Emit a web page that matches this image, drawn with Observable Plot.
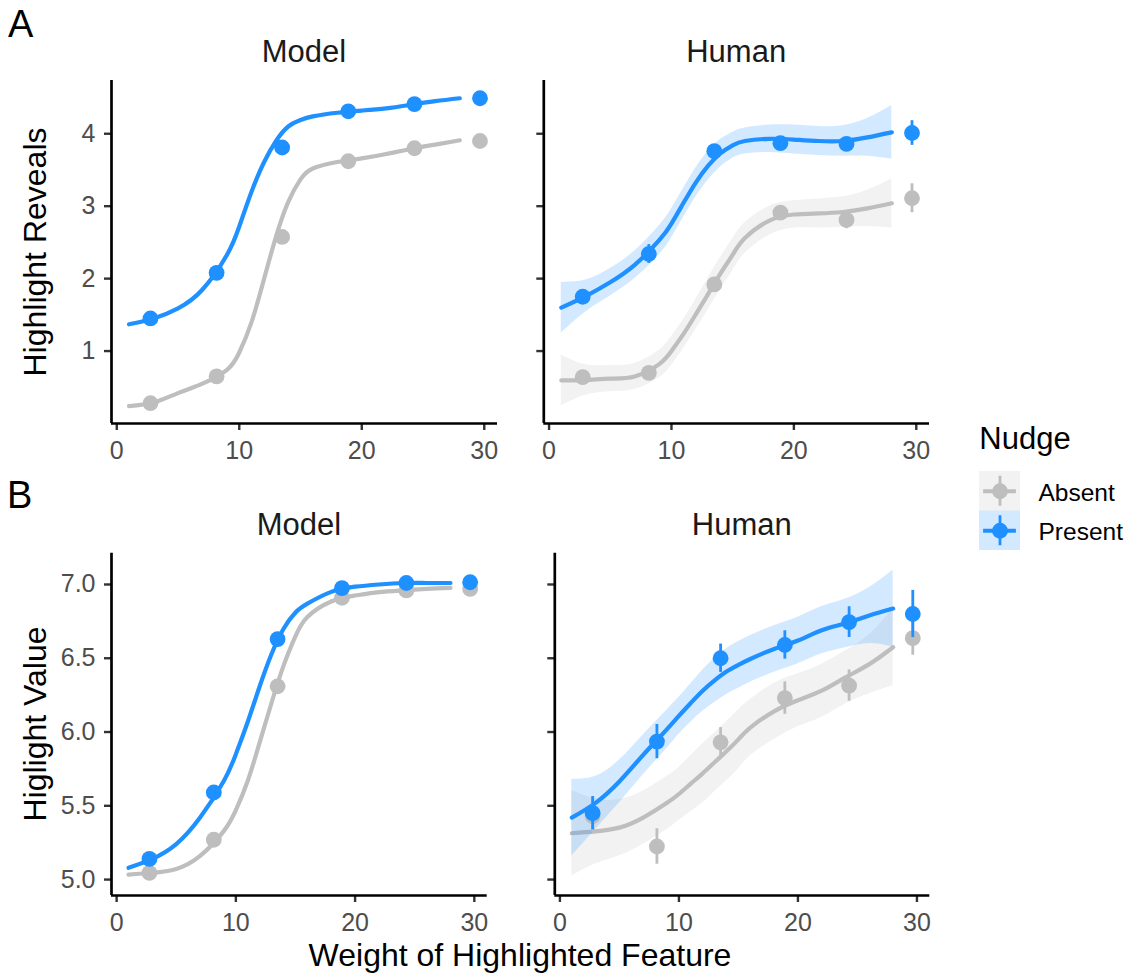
<!DOCTYPE html>
<html><head><meta charset="utf-8">
<script src="https://cdn.jsdelivr.net/npm/d3@7"></script>
<script src="https://cdn.jsdelivr.net/npm/@observablehq/plot@0.6"></script>
<style>
body{margin:0;background:#fff;font-family:"Liberation Sans",Arial,Helvetica,sans-serif;}
#root{position:relative;width:1130px;height:973px;overflow:hidden;background:#fff;}
.t{position:absolute;line-height:1;white-space:nowrap;color:#000;}
.p{position:absolute;}
.p svg{background:transparent !important;overflow:visible;}
</style></head><body><div id="root"></div>
<script>
// ---------- data ----------
const nudges = ["Absent", "Present"];
const nudgeColors = ["#BEBEBE", "#1E90FF"];
const agents = ["Model", "Human"];
const xTicks = [0, 10, 20, 30];
const revealTicks = [1, 2, 3, 4];
const valueTicks = [5.0, 5.5, 6.0, 6.5, 7.0];

const pointX = [2.75, 8.15, 13.5, 18.9, 24.3, 29.65];
// Panel A: Highlight Reveals
const revealsModelAbsent  = [0.28, 0.65, 2.575, 3.62, 3.80, 3.90];
const revealsModelPresent = [1.45, 2.08, 3.81, 4.31, 4.41, 4.49];
const revealsHumanAbsent  = [0.64, 0.70, 1.92, 2.91, 2.81, 3.11];
const revealsHumanAbsentErr  = [0.08, 0.08, 0.08, 0.10, 0.12, 0.20];
const revealsHumanPresent = [1.75, 2.34, 3.76, 3.87, 3.86, 4.01];
const revealsHumanPresentErr = [0.10, 0.13, 0.08, 0.07, 0.07, 0.17];
// Panel B: Higlight Value
const valueModelAbsent  = [5.045, 5.27, 6.31, 6.91, 6.96, 6.97];
const valueModelPresent = [5.14, 5.59, 6.63, 6.975, 7.01, 7.015];
const valueHumanAbsent  = [5.43, 5.224, 5.93, 6.23, 6.315, 6.636];
const valueHumanAbsentErr  = [0.11, 0.12, 0.10, 0.11, 0.106, 0.115];
const valueHumanPresent = [5.45, 5.935, 6.50, 6.59, 6.745, 6.80];
const valueHumanPresentErr = [0.113, 0.116, 0.096, 0.096, 0.104, 0.16];

// smooth fits and ribbon half-widths
const smoothX = [1, 3, 5, 7, 9, 10, 11, 12, 13, 14, 15, 16, 18, 20, 22, 24, 26, 28];
const revealsModelAbsentFit  = [0.24, 0.29, 0.42, 0.55, 0.74, 0.98, 1.40, 1.98, 2.58, 3.06, 3.37, 3.52, 3.61, 3.66, 3.72, 3.79, 3.85, 3.91];
const revealsModelPresentFit = [1.37, 1.45, 1.59, 1.85, 2.33, 2.72, 3.2, 3.6, 3.9, 4.1, 4.19, 4.24, 4.29, 4.32, 4.35, 4.40, 4.45, 4.49];
const revealsHumanAbsentFit  = [0.595, 0.60, 0.62, 0.65, 0.82, 1.0, 1.24, 1.51, 1.79, 2.07, 2.33, 2.56, 2.80, 2.885, 2.90, 2.92, 2.97, 3.04];
const revealsHumanAbsentSE   = [0.35, 0.21, 0.18, 0.18, 0.19, 0.2, 0.2, 0.21, 0.22, 0.22, 0.22, 0.21, 0.2, 0.19, 0.2, 0.21, 0.25, 0.34];
const revealsHumanPresentFit = [1.60, 1.76, 1.95, 2.19, 2.53, 2.76, 3.05, 3.33, 3.56, 3.73, 3.84, 3.90, 3.93, 3.92, 3.90, 3.90, 3.95, 4.02];
const revealsHumanPresentSE  = [0.35, 0.22, 0.19, 0.19, 0.2, 0.2, 0.2, 0.2, 0.2, 0.19, 0.18, 0.18, 0.19, 0.2, 0.2, 0.21, 0.26, 0.37];
const valueModelAbsentFit  = [5.034, 5.046, 5.072, 5.16, 5.33, 5.47, 5.67, 5.93, 6.20, 6.45, 6.65, 6.78, 6.885, 6.925, 6.948, 6.96, 6.97, 6.977];
const valueModelPresentFit = [5.08, 5.14, 5.24, 5.42, 5.67, 5.85, 6.07, 6.31, 6.53, 6.70, 6.81, 6.87, 6.95, 6.985, 7.0, 7.01, 7.01, 7.01];
const valueHumanAbsentFit  = [5.314, 5.327, 5.352, 5.42, 5.52, 5.58, 5.65, 5.72, 5.795, 5.87, 5.95, 6.03, 6.14, 6.215, 6.28, 6.37, 6.46, 6.575];
const valueHumanAbsentSE   = [0.29, 0.22, 0.19, 0.18, 0.18, 0.18, 0.19, 0.2, 0.2, 0.2, 0.2, 0.19, 0.19, 0.18, 0.18, 0.18, 0.2, 0.26];
const valueHumanPresentFit = [5.42, 5.52, 5.665, 5.845, 6.02, 6.11, 6.197, 6.28, 6.35, 6.41, 6.455, 6.495, 6.563, 6.62, 6.69, 6.737, 6.79, 6.837];
const valueHumanPresentSE  = [0.26, 0.18, 0.145, 0.135, 0.13, 0.125, 0.13, 0.14, 0.15, 0.155, 0.158, 0.158, 0.158, 0.158, 0.16, 0.165, 0.19, 0.26];

// ---------- helpers ----------
const FONT = '"Liberation Sans", Arial, Helvetica, sans-serif';
const CURVE = "natural";
const xDomain = [-0.43, 31.08];
const root = document.getElementById("root");

function pts(nudge, ys, errs) {
  return pointX.map((x, i) => ({nudge, x, y: ys[i], lo: errs ? ys[i] - errs[i] : ys[i], hi: errs ? ys[i] + errs[i] : ys[i]}));
}
function fit(nudge, ys, se) {
  return smoothX.map((x, i) => ({nudge, x, y: ys[i], lo: se ? ys[i] - se[i] : ys[i], hi: se ? ys[i] + se[i] : ys[i]}));
}

function panel(cfg) {
  const marks = [];
  nudges.forEach((n, k) => {
    const f = cfg.fits[k];
    if (cfg.ribbon) marks.push(Plot.areaY(f, {x: "x", y1: "lo", y2: "hi", fill: "nudge", fillOpacity: 0.2, curve: CURVE}));
    marks.push(Plot.line(f, {x: "x", y: "y", stroke: "nudge", strokeWidth: 4.2, curve: CURVE}));
  });
  nudges.forEach((n, k) => {
    const p = cfg.points[k];
    if (cfg.errors) marks.push(Plot.ruleX(p, {x: "x", y1: "lo", y2: "hi", stroke: "nudge", strokeWidth: 2.8}));
    marks.push(Plot.dot(p, {x: "x", y: "y", fill: "nudge", r: 7.9}));
  });
  marks.push(
    Plot.axisX({ticks: xTicks, tickSize: 7, tickPadding: 11, fontSize: 25, stroke: "#333333", fill: "#4D4D4D", strokeWidth: 2.4, label: null}),
    Plot.axisY({ticks: cfg.yTicks, tickFormat: cfg.labels ? cfg.yFormat : () => "", tickSize: 7, tickPadding: 9, fontSize: 25, stroke: "#333333", fill: "#4D4D4D", strokeWidth: 2.4, label: null}),
    Plot.ruleY([cfg.yDomain[0]], {stroke: "#000", strokeWidth: 2.7}),
    Plot.ruleX([xDomain[0]], {stroke: "#000", strokeWidth: 2.7})
  );
  const svg = Plot.plot({
    width: cfg.w, height: cfg.h,
    marginLeft: cfg.ml, marginRight: cfg.mr, marginTop: cfg.mt, marginBottom: cfg.mb,
    style: {background: "transparent", overflow: "visible", fontFamily: FONT, fontSize: "25px"},
    x: {domain: xDomain},
    y: {domain: cfg.yDomain},
    color: {domain: nudges, range: nudgeColors},
    marks
  });
  const d = document.createElement("div");
  d.className = "p";
  d.style.left = cfg.left + "px";
  d.style.top = cfg.top + "px";
  d.appendChild(svg);
  root.appendChild(d);
}

function text(str, opts) {
  const d = document.createElement("div");
  d.className = "t";
  d.textContent = str;
  d.style.fontSize = opts.size + "px";
  d.style.left = opts.x + "px";
  d.style.top = opts.y + "px";
  if (opts.color) d.style.color = opts.color;
  if (opts.transform) d.style.transform = opts.transform;
  root.appendChild(d);
}

const yRevealDomain = [0.0, 4.735];
const yValueDomain = [4.892, 7.212];
const fmt1 = d3.format(".1f");

// A row
panel({left: 50, top: 70, w: 455, h: 400, ml: 61, mr: 8, mt: 10, mb: 47,
  yDomain: yRevealDomain, yTicks: revealTicks, yFormat: d3.format("d"), labels: true, ribbon: false, errors: false,
  fits: [fit("Absent", revealsModelAbsentFit), fit("Present", revealsModelPresentFit)],
  points: [pts("Absent", revealsModelAbsent), pts("Present", revealsModelPresent)]});
panel({left: 505, top: 70, w: 435, h: 400, ml: 38.3, mr: 11, mt: 10, mb: 47,
  yDomain: yRevealDomain, yTicks: revealTicks, labels: false, ribbon: true, errors: true,
  fits: [fit("Absent", revealsHumanAbsentFit, revealsHumanAbsentSE), fit("Present", revealsHumanPresentFit, revealsHumanPresentSE)],
  points: [pts("Absent", revealsHumanAbsent, revealsHumanAbsentErr), pts("Present", revealsHumanPresent, revealsHumanPresentErr)]});
// B row
panel({left: 50, top: 540, w: 445, h: 400, ml: 61, mr: 8.3, mt: 12.7, mb: 45,
  yDomain: yValueDomain, yTicks: valueTicks, yFormat: fmt1, labels: true, ribbon: false, errors: false,
  fits: [fit("Absent", valueModelAbsentFit), fit("Present", valueModelPresentFit)],
  points: [pts("Absent", valueModelAbsent), pts("Present", valueModelPresent)]});
panel({left: 505, top: 540, w: 435, h: 400, ml: 49.3, mr: 10.7, mt: 12.7, mb: 45,
  yDomain: yValueDomain, yTicks: valueTicks, labels: false, ribbon: true, errors: true,
  fits: [fit("Absent", valueHumanAbsentFit, valueHumanAbsentSE), fit("Present", valueHumanPresentFit, valueHumanPresentSE)],
  points: [pts("Absent", valueHumanAbsent, valueHumanAbsentErr), pts("Present", valueHumanPresent, valueHumanPresentErr)]});

// legend keys (drawn with Plot)
const keyRows = nudges.map((n, i) => ({nudge: n, c: nudges.length - i - 0.5}));
const legendSvg = Plot.plot({
  width: 150, height: 79, marginLeft: 0, marginRight: 109, marginTop: 0, marginBottom: 0,
  style: {background: "transparent", overflow: "visible", fontFamily: FONT},
  x: {domain: [0, 1], axis: null},
  y: {domain: [0, nudges.length], axis: null},
  color: {domain: nudges, range: nudgeColors},
  marks: [
    Plot.rect(keyRows, {x1: 0, x2: 1, y1: d => d.c - 0.5, y2: d => d.c + 0.5, fill: "nudge", fillOpacity: 0.2}),
    Plot.ruleY(keyRows, {y: "c", x1: 0.1, x2: 0.9, stroke: "nudge", strokeWidth: 4.2}),
    Plot.ruleX(keyRows, {x: 0.5, y1: d => d.c - 0.38, y2: d => d.c + 0.38, stroke: "nudge", strokeWidth: 2.8}),
    Plot.dot(keyRows, {x: 0.5, y: "c", fill: "nudge", r: 7.9}),
    Plot.text(keyRows, {x: 1, y: "c", text: "nudge", textAnchor: "start", dx: 18, dy: 1.5, fontSize: 24.5, fill: "#000"})
  ]
});
const ld = document.createElement("div");
ld.className = "p"; ld.style.left = "979px"; ld.style.top = "470.5px";
ld.appendChild(legendSvg); root.appendChild(ld);

// titles and labels
const B = 0.8465; // baseline offset for line-height 1
text("A", {size: 38, x: 8, y: 37.3 - 38 * B});
text("B", {size: 38, x: 7, y: 508 - 38 * B});
text(agents[0], {size: 31, x: 304, y: 62.3 - 31 * B, color: "#1A1A1A", transform: "translateX(-50%)"});
text(agents[1], {size: 31, x: 736.2, y: 62.3 - 31 * B, color: "#1A1A1A", transform: "translateX(-50%)"});
text(agents[0], {size: 31, x: 299, y: 535 - 31 * B, color: "#1A1A1A", transform: "translateX(-50%)"});
text(agents[1], {size: 31, x: 741.8, y: 535 - 31 * B, color: "#1A1A1A", transform: "translateX(-50%)"});
text("Weight of Highlighted Feature", {size: 32, x: 520, y: 965.7 - 32 * B, transform: "translateX(-50%)"});
text("Highlight Reveals", {size: 32, x: 34.9, y: 251.5, transform: "translate(-50%,-50%) rotate(-90deg)"});
text("Higlight Value", {size: 32, x: 34.9, y: 723.5, transform: "translate(-50%,-50%) rotate(-90deg)"});
text("Nudge", {size: 31, x: 979.3, y: 449.3 - 31 * B});
</script></body></html>
